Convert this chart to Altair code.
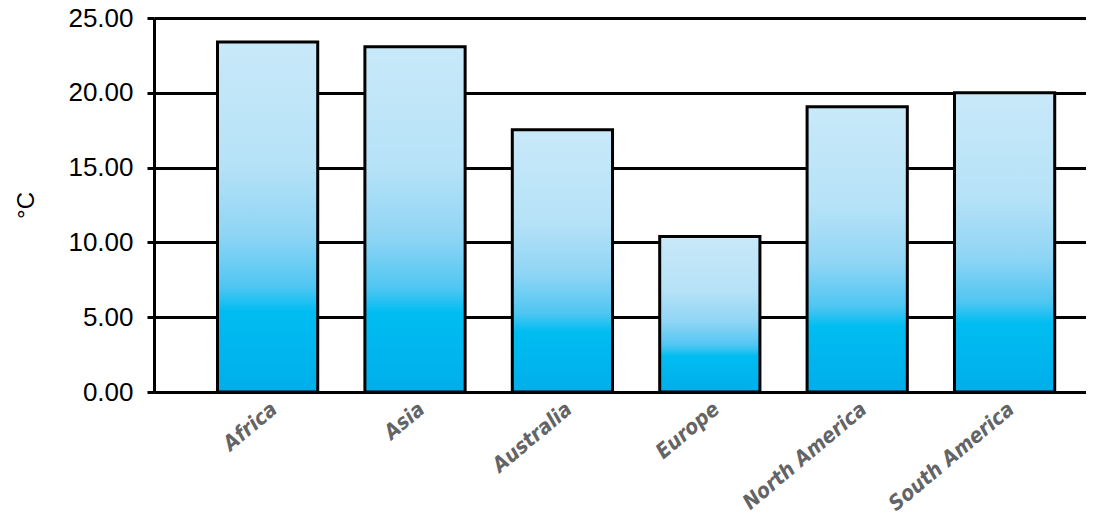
import altair as alt
import pandas as pd

continents = ["Africa", "Asia", "Australia", "Europe", "North America", "South America"]
temps = [23.4, 23.07, 17.53, 10.4, 19.07, 20.0]

df = pd.DataFrame({"continent": continents, "temp": temps})

grad = alt.Gradient(
    gradient="linear",
    x1=0, y1=0, x2=0, y2=1,
    stops=[
        alt.GradientStop(color="#c8e9f9", offset=0),
        alt.GradientStop(color="#b6e2f7", offset=0.35),
        alt.GradientStop(color="#8fd5f5", offset=0.55),
        alt.GradientStop(color="#4fc6f2", offset=0.7),
        alt.GradientStop(color="#00bdf1", offset=0.77),
        alt.GradientStop(color="#00aeea", offset=1),
    ],
)

chart = (
    alt.Chart(df)
    .mark_bar(color=grad, stroke="black", strokeWidth=3)
    .encode(
        x=alt.X(
            "continent:N",
            sort=continents,
            title=None,
            scale=alt.Scale(paddingInner=0.32, paddingOuter=0.3215, align=0.67),
            axis=alt.Axis(
                labelAngle=320,
                labelFont="DejaVu Sans Condensed",
                labelFontWeight="bold",
                labelFontStyle="italic",
                labelFontSize=21,
                labelColor="#636466",
                labelPadding=6,
                ticks=False,
                domainColor="black",
                domainWidth=3,
            ),
        ),
        y=alt.Y(
            "temp:Q",
            title="°C",
            scale=alt.Scale(domain=[0, 25], nice=False),
            axis=alt.Axis(
                values=[0, 5, 10, 15, 20, 25],
                format=".2f",
                labelFont="Liberation Sans",
                labelFontSize=26,
                labelColor="black",
                labelPadding=14,
                tickColor="black",
                tickWidth=3,
                tickSize=7,
                domainColor="black",
                domainWidth=3,
                gridColor="black",
                gridWidth=3,
                gridOpacity=1,
                titleFont="Liberation Sans",
                titleFontSize=24,
                titleFontWeight="normal",
                titleColor="black",
                titlePadding=29,
            ),
        ),
    )
    .properties(
        width=932,
        height=374,
        autosize=alt.AutoSizeParams(type="none"),
        padding={"left": 146, "top": 10, "right": 0, "bottom": 124},
    )
    .configure_view(stroke=None)
)

chart.save("out.html", embed_options={"renderer": "svg", "actions": False})
